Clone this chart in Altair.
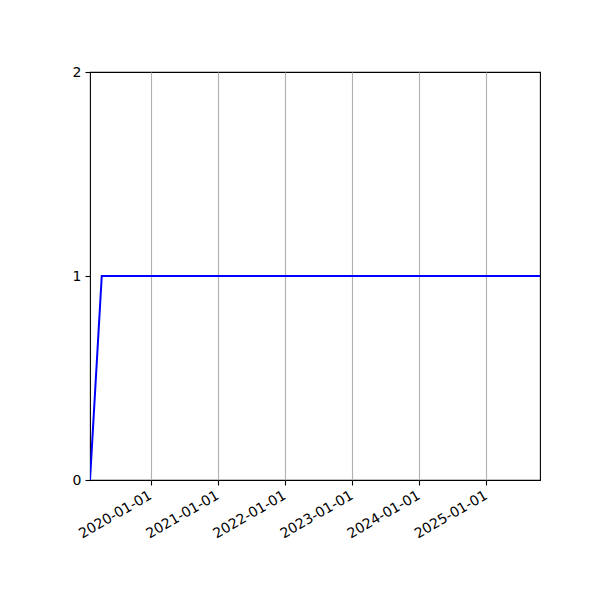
import altair as alt
import pandas as pd

dates = ["2019-02-04", "2019-04-09", "2025-10-20"]
values = [0, 1, 1]
tick_years = [2020, 2021, 2022, 2023, 2024, 2025]
y_ticks = [0.0, 1.0, 2.0]

df = pd.DataFrame({"date": dates, "value": values})

chart = alt.Chart(df).mark_line(color="blue", strokeWidth=2, clip=True).encode(
    x=alt.X(
        "date:T",
        scale=alt.Scale(
            type="utc",
            domain=[alt.DateTime(year=2019, month=2, date=4, utc=True),
                    alt.DateTime(year=2025, month=10, date=20, utc=True)],
            nice=False,
        ),
        axis=alt.Axis(
            values=[alt.DateTime(year=y, month=1, date=1, utc=True) for y in tick_years],
            format="%Y-%m-%d",
            labelAngle=330,
            labelAlign="right",
            labelBaseline="top",
            labelFlush=False,
            labelOverlap=False,
            labelOffset=-4,
            grid=True,
            gridColor="#b0b0b0",
            gridWidth=1.1,
            title=None,
            domain=False,
            tickColor="black",
            tickSize=5,
            tickWidth=1.1,
            labelFont="DejaVu Sans",
            labelFontSize=14,
            labelColor="black",
            labelPadding=3,
        ),
    ),
    y=alt.Y(
        "value:Q",
        scale=alt.Scale(domain=[0, 2], nice=False, zero=True),
        axis=alt.Axis(
            values=y_ticks,
            format=".0f",
            grid=False,
            title=None,
            domain=False,
            labelFlush=False,
            labelOverlap=False,
            tickColor="black",
            tickSize=5,
            tickWidth=1.1,
            labelFont="DejaVu Sans",
            labelFontSize=14,
            labelColor="black",
            labelPadding=4,
        ),
    ),
).properties(
    width=450,
    height=408,
    autosize=alt.AutoSizeParams(type="none"),
    padding={"left": 82, "top": 64, "right": 50, "bottom": 104},
).configure_view(
    stroke="black",
    strokeWidth=1.1,
)

chart.save("out.html", embed_options={"renderer": "svg", "actions": False})
